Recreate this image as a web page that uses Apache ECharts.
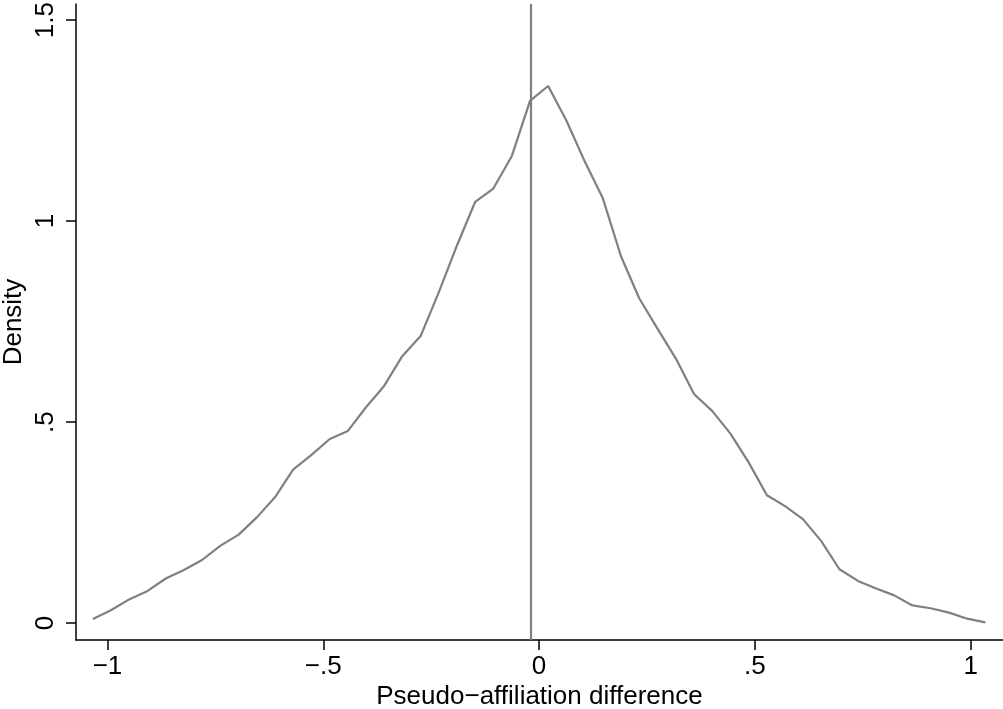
<!DOCTYPE html>
<html>
<head>
<meta charset="utf-8">
<script src="https://cdn.jsdelivr.net/npm/echarts@6/dist/echarts.min.js"></script>
<style>
html,body{margin:0;padding:0;background:#fff;}
#chart{width:1003px;height:709px;}
</style>
</head>
<body>
<div id="chart"></div>
<script>
// Data
const xValues = [-1.034,-0.992,-0.950,-0.907,-0.865,-0.823,-0.781,-0.739,-0.696,-0.654,
  -0.612,-0.570,-0.528,-0.485,-0.443,-0.401,-0.359,-0.317,-0.274,-0.232,
  -0.190,-0.148,-0.106,-0.063,-0.021,0.021,0.063,0.106,0.148,0.190,
  0.232,0.274,0.317,0.359,0.401,0.443,0.485,0.528,0.570,0.612,
  0.654,0.696,0.739,0.781,0.823,0.865,0.907,0.950,0.992,1.034];
const densityValues = [0.010,0.032,0.059,0.080,0.111,0.132,0.157,0.192,0.220,0.263,
  0.313,0.382,0.418,0.458,0.478,0.537,0.590,0.664,0.715,0.824,
  0.940,1.048,1.081,1.162,1.299,1.336,1.251,1.148,1.056,0.912,
  0.808,0.733,0.658,0.570,0.528,0.472,0.401,0.318,0.291,0.258,
  0.204,0.134,0.105,0.086,0.069,0.044,0.037,0.026,0.011,0.002];
const referenceLineX = -0.0155;
const xTickValues = [-1, -0.5, 0, 0.5, 1];
const xTickLabels = ['\u22121', '\u2212.5', '0', '.5', '1'];
const yTickValues = [0, 0.5, 1, 1.5];
const yTickLabels = ['0', '.5', '1', '1.5'];
const xTitle = 'Pseudo\u2212affiliation difference';
const yTitle = 'Density';

const seriesData = xValues.map((x, i) => [x, densityValues[i]]);
const font = 'Liberation Sans, Arial, Helvetica, sans-serif';

function labelFor(values, labels) {
  return function (v) {
    for (let i = 0; i < values.length; i++) {
      if (Math.abs(values[i] - v) < 1e-6) return labels[i];
    }
    return '';
  };
}

const chart = echarts.init(document.getElementById('chart'), null, {renderer: 'canvas'});
chart.setOption({
  animation: false,
  backgroundColor: '#ffffff',
  grid: {left: 76, right: 0, top: 4, bottom: 69, containLabel: false, outerBoundsMode: 'none'},
  xAxis: {
    type: 'value',
    min: -1.073, max: 1.075,
    name: xTitle,
    nameLocation: 'middle',
    nameGap: 44,
    nameMoveOverlap: false,
    nameTextStyle: {fontFamily: font, fontSize: 26, color: '#000'},
    splitLine: {show: false},
    axisLine: {show: true, onZero: false, lineStyle: {color: '#000', width: 1.5}},
    axisTick: {show: true, length: 10, lineStyle: {color: '#000', width: 1.5},
      customValues: xTickValues},
    axisLabel: {fontFamily: font, fontSize: 26, color: '#000', margin: 14,
      customValues: xTickValues,
      formatter: labelFor(xTickValues, xTickLabels)}
  },
  yAxis: {
    type: 'value',
    min: -0.042, max: 1.54,
    name: yTitle,
    nameLocation: 'middle',
    nameGap: 49,
    nameRotate: 90,
    nameMoveOverlap: false,
    nameTextStyle: {fontFamily: font, fontSize: 26, color: '#000'},
    splitLine: {show: false},
    axisLine: {show: true, onZero: false, lineStyle: {color: '#000', width: 1.5}},
    axisTick: {show: true, length: 10, lineStyle: {color: '#000', width: 1.5},
      customValues: yTickValues},
    axisLabel: {fontFamily: font, fontSize: 26, color: '#000', margin: 17, rotate: 90,
      customValues: yTickValues,
      formatter: labelFor(yTickValues, yTickLabels)}
  },
  series: [{
    type: 'line',
    data: seriesData,
    showSymbol: false,
    symbol: 'none',
    lineStyle: {color: '#808080', width: 2.2},
    markLine: {
      silent: true,
      symbol: ['none', 'none'],
      label: {show: false},
      lineStyle: {color: '#808080', width: 2.2, type: 'solid'},
      data: [{xAxis: referenceLineX}]
    }
  }]
});
</script>
</body>
</html>
